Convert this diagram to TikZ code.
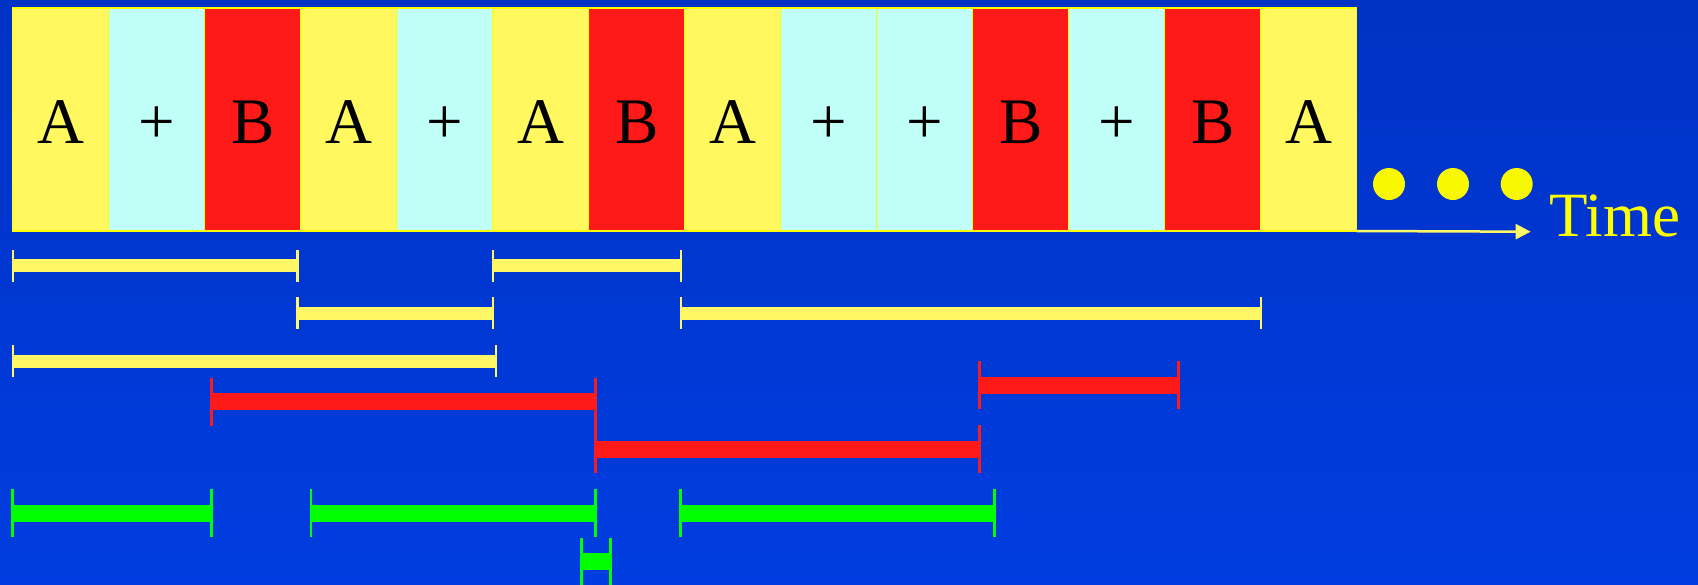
\documentclass[tikz,border=0pt]{standalone}
\usepackage{fontspec}
\setmainfont{Liberation Serif}
\usetikzlibrary{arrows.meta,positioning}
\definecolor{bgtop}{HTML}{0032C4}
\definecolor{bgbottom}{HTML}{003DE0}
\definecolor{slotyellow}{HTML}{FFF85F}
\definecolor{slotcyan}{HTML}{C0FFF7}
\definecolor{slotred}{HTML}{FF1A1A}
\definecolor{slotedge}{HTML}{FFFF00}
\definecolor{dotyellow}{HTML}{F8F800}
\definecolor{spanyellow}{HTML}{FFF765}
\definecolor{spanred}{HTML}{FF1A1A}
\definecolor{spangreen}{HTML}{00FF00}
\tikzset{
  slot/.style={
    draw=slotedge,
    line width=1.5pt,
    minimum width=96pt,
    minimum height=223pt,
    inner sep=0pt,
    outer sep=0pt,
    text height=47pt,
    text depth=0pt,
    font=\fontsize{65}{78}\selectfont
  },
  aslot/.style={slot, fill=slotyellow},
  plusslot/.style={slot, fill=slotcyan},
  bslot/.style={slot, fill=slotred},
  timeline/.style={
    -{Triangle[length=15pt,width=15pt]},
    line width=2.5pt,
    draw=spanyellow
  },
  timetext/.style={
    text=slotedge,
    inner sep=0pt,
    font=\fontsize{63}{76}\selectfont
  }
}

\begin{document}
\begin{tikzpicture}[x=1pt,y=-1pt,node distance=0pt]
\shade[top color=bgtop,bottom color=bgbottom] (0,0) rectangle (1698,584);
\useasboundingbox (0,0) rectangle (1698,584);
% the sequence of slots
\node[aslot] (s1) at (60.7,119.5) {A};
\node[plusslot, right=of s1] (s2) {+};
\node[bslot, right=of s2] (s3) {B};
\node[aslot, right=of s3] (s4) {A};
\node[plusslot, right=of s4] (s5) {+};
\node[aslot, right=of s5] (s6) {A};
\node[bslot, right=of s6] (s7) {B};
\node[aslot, right=of s7] (s8) {A};
\node[plusslot, right=of s8] (s9) {+};
\node[plusslot, right=of s9] (s10) {+};
\node[bslot, right=of s10] (s11) {B};
\node[plusslot, right=of s11] (s12) {+};
\node[bslot, right=of s12] (s13) {B};
\node[aslot, right=of s13] (s14) {A};
% more to come
\foreach \xx in {1389,1453,1516.7}
  \fill[dotyellow] (\xx,184) circle[radius=16pt];
\coordinate (tend) at (1530.7,231.7);
\draw[timeline] (s14.south east) -- (tend);
\node[timetext, anchor=base west] (timelabel) at (1549,236.7) {Time};
% yellow spans
\foreach \xa/\xb/\yy in {12.7/297.3/265.5, 492.7/681/265.5, 297.3/492.7/313.3,
    681/1261/313.3, 12.7/496/361.3}{
  \fill[spanyellow] (\xa,\yy-6.2) rectangle (\xb,\yy+6.2);
  \fill[spanyellow] (\xa-1.2,\yy-16) rectangle (\xa+1.2,\yy+16);
  \fill[spanyellow] (\xb-1.2,\yy-16) rectangle (\xb+1.2,\yy+16);
}
% red spans
\foreach \xa/\xb/\yy in {211.3/595.4/401.7, 979.7/1178.7/385.3, 595.4/979.7/449.3}{
  \fill[spanred] (\xa,\yy-8.3) rectangle (\xb,\yy+8.3);
  \fill[spanred] (\xa-1.4,\yy-24) rectangle (\xa+1.4,\yy+24);
  \fill[spanred] (\xb-1.4,\yy-24) rectangle (\xb+1.4,\yy+24);
}
% green spans
\foreach \xa/\xb/\yy in {12.7/211.3/513.3, 311/595.4/513.3, 680.8/994.5/513.3,
    581.3/610.2/561.7}{
  \fill[spangreen] (\xa,\yy-8.3) rectangle (\xb,\yy+8.3);
  \fill[spangreen] (\xa-1.4,\yy-24) rectangle (\xa+1.4,\yy+24);
  \fill[spangreen] (\xb-1.4,\yy-24) rectangle (\xb+1.4,\yy+24);
}
\end{tikzpicture}
\end{document}
